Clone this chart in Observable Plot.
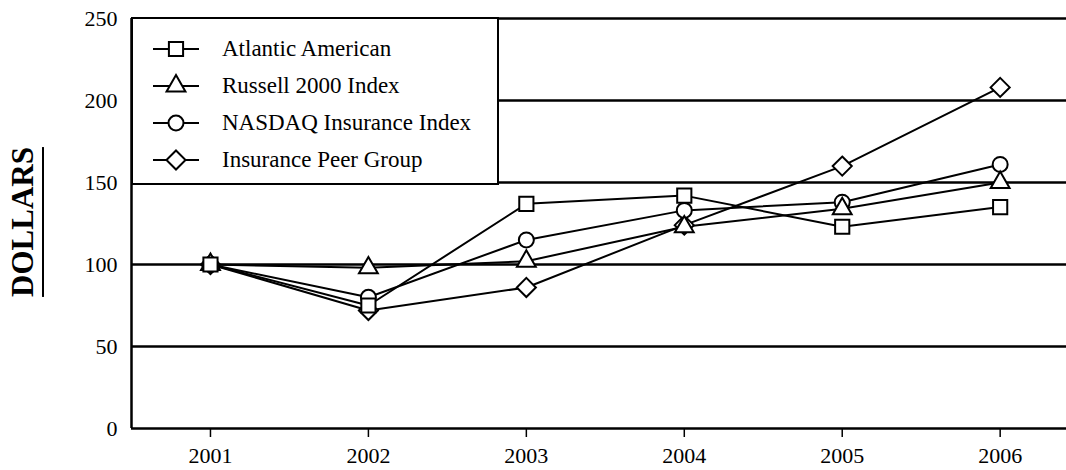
<!DOCTYPE html>
<html>
<head>
<meta charset="utf-8">
<script src="https://cdn.jsdelivr.net/npm/d3@7"></script>
<script src="https://cdn.jsdelivr.net/npm/@observablehq/plot@0.6"></script>
<style>
  html, body { margin: 0; padding: 0; background: #fff; }
  #wrap { position: relative; width: 1066px; height: 470px; overflow: hidden; font-family: 'Liberation Serif', 'Times New Roman', serif; color: #000; }
  #ylabel { position: absolute; left: 23px; top: 222px; transform: translate(-50%, -50%) rotate(-90deg); font-weight: bold; font-size: 31px; text-decoration: underline; text-underline-offset: 9px; text-decoration-thickness: 2px; white-space: nowrap; }
  #legend { position: absolute; left: 131px; top: 17px; width: 364px; height: 164px; background: #fff; border: 2.5px solid #000; }
  .row { position: absolute; left: 0; height: 30px; display: flex; align-items: center; font-size: 23px; }
  .row svg { margin-left: 19px; margin-right: 22px; }
</style>
</head>
<body>
<div id="wrap">
  <div id="chart"></div>
  <div id="legend"></div>
  <div id="ylabel">DOLLARS</div>
</div>
<script>
const years = [2001, 2002, 2003, 2004, 2005, 2006];
const seriesNames = ["Atlantic American", "Russell 2000 Index", "NASDAQ Insurance Index", "Insurance Peer Group"];
const atlantic = [100, 75, 137, 142, 123, 135];
const russell = [100, 98, 102, 123, 134, 150];
const nasdaq = [100, 80, 115, 133, 138, 161];
const peer = [100, 72, 86, 124, 160, 208];
const yTicks = [0, 50, 100, 150, 200, 250];
const gridLines = [50, 100, 150, 200, 250];
const symbols = ["square", "triangle", "circle", "diamond2"];
const radii = [8, 7, 7.5, 8.6];

const valuesBySeries = [atlantic, russell, nasdaq, peer];
const rows = [];
seriesNames.forEach((name, i) => {
  years.forEach((yr, j) => rows.push({series: name, year: yr, value: valuesBySeries[i][j], idx: i}));
});

const xDomain = [2000.5, 2006.42];
// drawing order of markers: diamond, circle, triangle, square
const markerOrder = [3, 2, 1, 0];

const chart = Plot.plot({
  width: 1066,
  height: 470,
  marginLeft: 131,
  marginRight: 0,
  marginTop: 18,
  marginBottom: 42,
  x: {domain: xDomain},
  y: {domain: [0, 250]},
  style: {fontFamily: "'Liberation Serif', 'Times New Roman', serif", fontSize: "22px", color: "#000", background: "#fff"},
  marks: [
    Plot.ruleY(gridLines, {stroke: "#000", strokeWidth: 2.5}),
    Plot.ruleY([0], {stroke: "#000", strokeWidth: 2.5}),
    Plot.ruleX([xDomain[0]], {stroke: "#000", strokeWidth: 2.5}),
    Plot.axisX({ticks: years, tickFormat: d => String(d), tickSize: 9, tickPadding: 10, label: null, strokeWidth: 1.5}),
    Plot.axisY({ticks: yTicks, tickSize: 0, tickPadding: 14, label: null}),
    Plot.line(rows, {x: "year", y: "value", z: "series", stroke: "#000", strokeWidth: 2}),
    ...markerOrder.map(i => Plot.dot(rows.filter(d => d.idx === i), {
      x: "year", y: "value", symbol: () => symbols[i], r: radii[i], fill: "#fff", stroke: "#000", strokeWidth: 2
    }))
  ]
});
document.getElementById("chart").appendChild(chart);

// Legend
const legend = document.getElementById("legend");
const rowTops = [15, 52, 89, 126];
seriesNames.forEach((name, i) => {
  const row = document.createElement("div");
  row.className = "row";
  row.style.top = rowTops[i] + "px";
  const sym = d3.create("svg").attr("width", 48).attr("height", 30);
  sym.append("line").attr("x1", 1).attr("x2", 47).attr("y1", 15).attr("y2", 15).attr("stroke", "#000").attr("stroke-width", 2);
  const symMap = {square: d3.symbolSquare, triangle: d3.symbolTriangle, circle: d3.symbolCircle, diamond2: d3.symbolDiamond2};
  sym.append("path")
    .attr("transform", "translate(24,15)")
    .attr("d", d3.symbol(symMap[symbols[i]], Math.PI * radii[i] * radii[i])())
    .attr("fill", "#fff").attr("stroke", "#000").attr("stroke-width", 2);
  row.appendChild(sym.node());
  const label = document.createElement("span");
  label.textContent = name;
  row.appendChild(label);
  legend.appendChild(row);
});
</script>
</body>
</html>
